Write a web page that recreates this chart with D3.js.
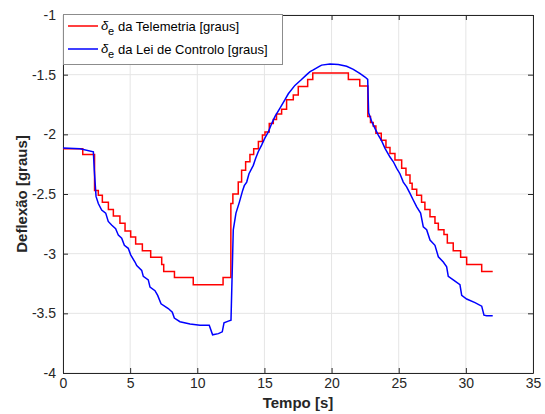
<!DOCTYPE html>
<html>
<head>
<meta charset="utf-8">
<script src="https://cdn.jsdelivr.net/npm/d3@7"></script>
<style>
    body { margin: 0; background: #fff; }
    svg text { font-family: "Liberation Sans", Arial, sans-serif; }
</style>
</head>
<body>
<div id="chart"></div>
<script>
//Datos
const xTicks = [0, 5, 10, 15, 20, 25, 30, 35];
const yTicks = [-4, -3.5, -3, -2.5, -2, -1.5, -1];

//Telemetria (escalones)
const redT = [0, 1.47, 2.35, 2.63, 2.93, 3.38, 3.75, 4.24, 4.62, 5.04, 5.41, 5.91, 6.53, 7.35, 7.5, 8.3, 9.7, 11.92,
    12.5, 12.65, 13.05, 13.3, 13.6, 13.92, 14.2, 14.55, 14.85, 15.04, 15.36, 15.66, 15.9, 16.28, 16.65, 17.15, 17.52, 18.22, 18.6,
    21.25, 22.1, 22.7, 22.9, 23.1, 23.3, 23.7, 24.05, 24.35, 24.72, 25.22, 25.54, 25.84, 26.0, 26.34, 26.7, 26.95,
    27.33, 27.7, 27.95, 28.37, 28.62, 29.06, 29.61, 30.06, 31.18, 32.0];
const redV = [-2.12, -2.17, -2.47, -2.51, -2.57, -2.63, -2.685, -2.745, -2.81, -2.86, -2.92, -2.975, -3.03, -3.09, -3.15, -3.2, -3.26, -3.2,
    -2.58, -2.5, -2.4, -2.3, -2.23, -2.17, -2.12, -2.06, -2.005, -1.98, -1.91, -1.875, -1.83, -1.79, -1.71, -1.67, -1.6, -1.54, -1.485,
    -1.54, -1.595, -1.85, -1.9, -1.93, -1.99, -2.05, -2.11, -2.16, -2.215, -2.285, -2.34, -2.41, -2.46, -2.51, -2.57, -2.63,
    -2.69, -2.745, -2.8, -2.84, -2.91, -2.975, -3.03, -3.09, -3.15, -3.15];

//Lei de Controlo
const blueT = [0, 1.27, 2.26, 2.33, 2.46, 2.63, 2.88, 3.18, 3.37, 3.62, 3.92, 4.12, 4.37, 4.57, 4.86, 5.04, 5.36, 5.49, 5.86, 5.98,
    6.35, 6.48, 6.85, 7.05, 7.3, 7.84, 8.14, 8.29, 8.71, 9.46, 10.2, 10.89, 11.14, 11.57, 11.86, 11.99, 12.31, 12.51,
    12.68, 12.88, 13.13, 13.38, 13.5, 13.68, 13.85, 14.17, 14.35, 14.54, 14.79, 15.04, 15.29, 15.54, 15.79, 16.16, 16.53, 16.78,
    17.27, 17.72, 18.15, 18.4, 18.64, 19.09, 19.26, 19.88, 20.5, 21.12, 21.62, 22.1, 22.49, 22.69, 22.76, 22.98, 23.23, 23.48,
    23.73, 23.98, 24.35, 24.6, 24.85, 25.09, 25.34, 25.59, 25.84, 26.08, 26.34, 26.63, 26.83, 27.08, 27.33, 27.7, 27.95,
    28.32, 28.57, 28.69, 29.06, 29.56, 29.69, 30.06, 30.68, 31.18, 31.35, 31.55, 32.0];
const blueV = [-2.115, -2.12, -2.146, -2.3, -2.52, -2.58, -2.635, -2.66, -2.73, -2.76, -2.79, -2.845, -2.87, -2.93, -2.955, -3.01, -3.07, -3.1, -3.14, -3.19,
    -3.22, -3.28, -3.31, -3.35, -3.42, -3.46, -3.49, -3.54, -3.57, -3.59, -3.6, -3.6, -3.68, -3.67, -3.655, -3.58, -3.565, -3.557,
    -2.8, -2.66, -2.57, -2.47, -2.43, -2.4, -2.33, -2.26, -2.2, -2.146, -2.09, -2.03, -1.98, -1.91, -1.85, -1.78, -1.71, -1.66,
    -1.59, -1.545, -1.5, -1.475, -1.46, -1.43, -1.42, -1.41, -1.415, -1.43, -1.455, -1.49, -1.52, -1.54, -1.82, -1.89, -1.95, -2.006,
    -2.055, -2.117, -2.19, -2.23, -2.285, -2.33, -2.4, -2.44, -2.495, -2.55, -2.607, -2.66, -2.775, -2.8, -2.886, -2.93, -3.026,
    -3.07, -3.11, -3.19, -3.22, -3.26, -3.35, -3.38, -3.41, -3.44, -3.515, -3.52, -3.52];

//Colores
const COLOR_RED = '#ff0000', COLOR_BLUE = '#0000ff', COLOR_AXIS = '#262626', COLOR_GRID = '#e5e5e5';

let W = 545, H = 414;
let margin = {top: 15, right: 12, bottom: 41, left: 63},
    width = W - margin.left - margin.right,
    height = H - margin.top - margin.bottom;

let svg = d3.select('#chart').append('svg')
    .attr('width', W).attr('height', H)
    .append('g')
        .attr('transform', 'translate(' + margin.left + ',' + margin.top + ')');

let x = d3.scaleLinear().domain([0, 35]).range([0, width]);
let y = d3.scaleLinear().domain([-4, -1]).range([height, 0]);

//Rejilla
svg.append('g').selectAll('line').data(xTicks).enter().append('line')
    .attr('x1', d => x(d)).attr('x2', d => x(d)).attr('y1', 0).attr('y2', height)
    .attr('stroke', COLOR_GRID).attr('stroke-width', 1);
svg.append('g').selectAll('line').data(yTicks).enter().append('line')
    .attr('y1', d => y(d)).attr('y2', d => y(d)).attr('x1', 0).attr('x2', width)
    .attr('stroke', COLOR_GRID).attr('stroke-width', 1);

//Ejes
function styleAxis(g) {
    g.select('.domain').attr('stroke', COLOR_AXIS);
    g.selectAll('.tick line').attr('stroke', COLOR_AXIS);
    g.selectAll('.tick text').attr('fill', COLOR_AXIS).attr('font-size', '14px')
        .attr('font-family', '"Liberation Sans", Arial, sans-serif');
}
svg.append('g').attr('transform', 'translate(0,' + height + ')')
    .call(d3.axisBottom(x).tickValues(xTicks).tickSize(-5).tickSizeOuter(0).tickPadding(5))
    .call(styleAxis);
svg.append('g')
    .call(d3.axisLeft(y).tickValues(yTicks).tickSize(-5).tickSizeOuter(0).tickPadding(7).tickFormat(d => String(d)))
    .call(styleAxis);
svg.append('g')
    .call(d3.axisTop(x).tickValues(xTicks).tickSize(-5).tickSizeOuter(0).tickFormat(''))
    .call(styleAxis);
svg.append('g').attr('transform', 'translate(' + width + ',0)')
    .call(d3.axisRight(y).tickValues(yTicks).tickSize(-5).tickSizeOuter(0).tickFormat(''))
    .call(styleAxis);

//Líneas
let redData = redT.map((t, i) => ({t: t, v: redV[i]}));
let blueData = blueT.map((t, i) => ({t: t, v: blueV[i]}));

svg.append('path').datum(redData)
    .attr('fill', 'none').attr('stroke', COLOR_RED).attr('stroke-width', 1.5)
    .attr('d', d3.line().x(d => x(d.t)).y(d => y(d.v)).curve(d3.curveStepAfter));
svg.append('path').datum(blueData)
    .attr('fill', 'none').attr('stroke', COLOR_BLUE).attr('stroke-width', 1.5)
    .attr('d', d3.line().x(d => x(d.t)).y(d => y(d.v)));

//Títulos de ejes
svg.append('text')
    .attr('x', width / 2).attr('y', height + 35)
    .attr('text-anchor', 'middle').attr('font-size', '15px').attr('font-weight', 'bold')
    .attr('fill', COLOR_AXIS).text('Tempo [s]');
svg.append('text')
    .attr('transform', 'translate(' + (-36) + ',' + (height / 2) + ') rotate(-90)')
    .attr('text-anchor', 'middle').attr('font-size', '15px').attr('font-weight', 'bold')
    .attr('fill', COLOR_AXIS).text('Deflexão [graus]');

//Leyenda
let legend = svg.append('g');
legend.append('rect')
    .attr('x', 0.5).attr('y', -0.5).attr('width', 219).attr('height', 50)
    .attr('fill', '#fff').attr('stroke', '#8c8c8c').attr('stroke-width', 1);
let items = [{c: COLOR_RED, label: 'da Telemetria [graus]'}, {c: COLOR_BLUE, label: 'da Lei de Controlo [graus]'}];
items.forEach(function(it, i) {
    let cy = 11 + i * 23;
    legend.append('line').attr('x1', 5).attr('x2', 35).attr('y1', cy).attr('y2', cy)
        .attr('stroke', it.c).attr('stroke-width', 1.5);
    legend.append('text').attr('x', 38).attr('y', cy + 4)
        .attr('font-size', '13px').attr('font-style', 'italic')
        .attr('font-family', '"DejaVu Serif", "Liberation Serif", serif').attr('fill', '#000').text('δ');
    legend.append('text').attr('x', 45).attr('y', cy + 9)
        .attr('font-size', '11px').attr('fill', '#000').text('e');
    legend.append('text').attr('x', 55).attr('y', cy + 5)
        .attr('font-size', '13px').attr('fill', '#000').text(it.label);
});
</script>
</body>
</html>
